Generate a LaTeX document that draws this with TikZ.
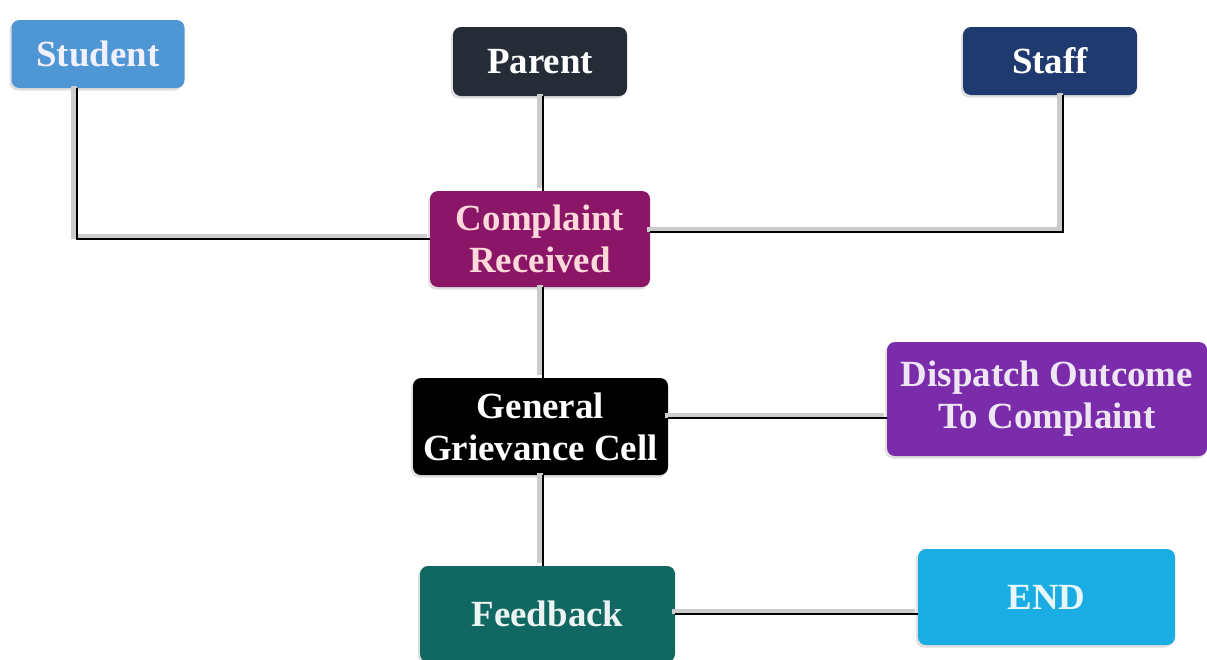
\documentclass[tikz,border=0pt]{standalone}
\usepackage{fontspec}
\setmainfont{Liberation Serif}
\usetikzlibrary{shadows}
\definecolor{studentblue}{RGB}{79,150,212}
\definecolor{parentgrey}{RGB}{38,43,56}
\definecolor{staffnavy}{RGB}{31,58,110}
\definecolor{plum}{RGB}{139,22,104}
\definecolor{violet}{RGB}{123,44,170}
\definecolor{teal}{RGB}{17,104,98}
\definecolor{cyan}{RGB}{26,173,227}

\tikzset{
  box/.style={rounded corners=0.16cm, draw=none, align=center, inner sep=0pt,
    font=\fontsize{21}{24}\selectfont\bfseries,
    drop shadow={opacity=0.25, shadow xshift=-0.04cm, shadow yshift=-0.05cm}},
  link/.style={draw=black, line width=1.3pt,
    preaction={draw=black!20, line width=3pt, transform canvas={shift={(-0.06cm,0.05cm)}}}}
}

\begin{document}
\begin{tikzpicture}

\useasboundingbox[fill=white] (0, 0) rectangle (24.14, -13.18);

% top row
\node[box, fill=studentblue, text=blue!6, minimum width=3.46cm, minimum height=1.36cm] (student) at (1.96, -1.08) {Student};
\node[box, fill=parentgrey, text=white, minimum width=3.48cm, minimum height=1.38cm] (parent) at (10.8, -1.23) {Parent};
\node[box, fill=staffnavy, text=white, minimum width=3.48cm, minimum height=1.36cm] (staff) at (21.0, -1.22) {Staff};

% middle
\node[box, fill=plum, text=pink!60, minimum width=4.4cm, minimum height=1.92cm] (complaint) at (10.8, -4.78) {Complaint\\Received};
\node[box, fill=black, text=white, minimum width=5.1cm, minimum height=1.94cm] (cell) at (10.81, -8.53) {General\\Grievance Cell};
\node[box, fill=violet, text=violet!12, minimum width=6.4cm, minimum height=2.28cm] (dispatch) at (20.94, -7.98) {Dispatch Outcome\\To Complaint};

% bottom
\node[box, fill=teal, text=teal!8, minimum width=5.1cm, minimum height=1.92cm] (feedback) at (10.95, -12.28) {Feedback};
\node[box, fill=cyan, text=cyan!10, minimum width=5.14cm, minimum height=1.92cm] (end) at (20.93, -11.94) {END};

% connectors
\draw[link] ([xshift=-0.42cm]student.south) |- (complaint.west);
\draw[link] ([xshift=0.26cm]staff.south) |- ([yshift=0.14cm]complaint.east);
\draw[link] ([xshift=0.06cm]parent.south) -- ([xshift=0.06cm]complaint.north);
\draw[link] ([xshift=0.06cm]complaint.south) -- ([xshift=0.06cm]complaint.south |- cell.north);
\draw[link] ([yshift=0.17cm]cell.east) -- ([yshift=0.17cm]cell.east -| dispatch.west);
\draw[link] ([xshift=0.06cm]complaint.south |- cell.south) -- ([xshift=0.06cm]complaint.south |- feedback.north);
\draw[link] (feedback.east) -- (feedback.east -| end.west);

\end{tikzpicture}
\end{document}
